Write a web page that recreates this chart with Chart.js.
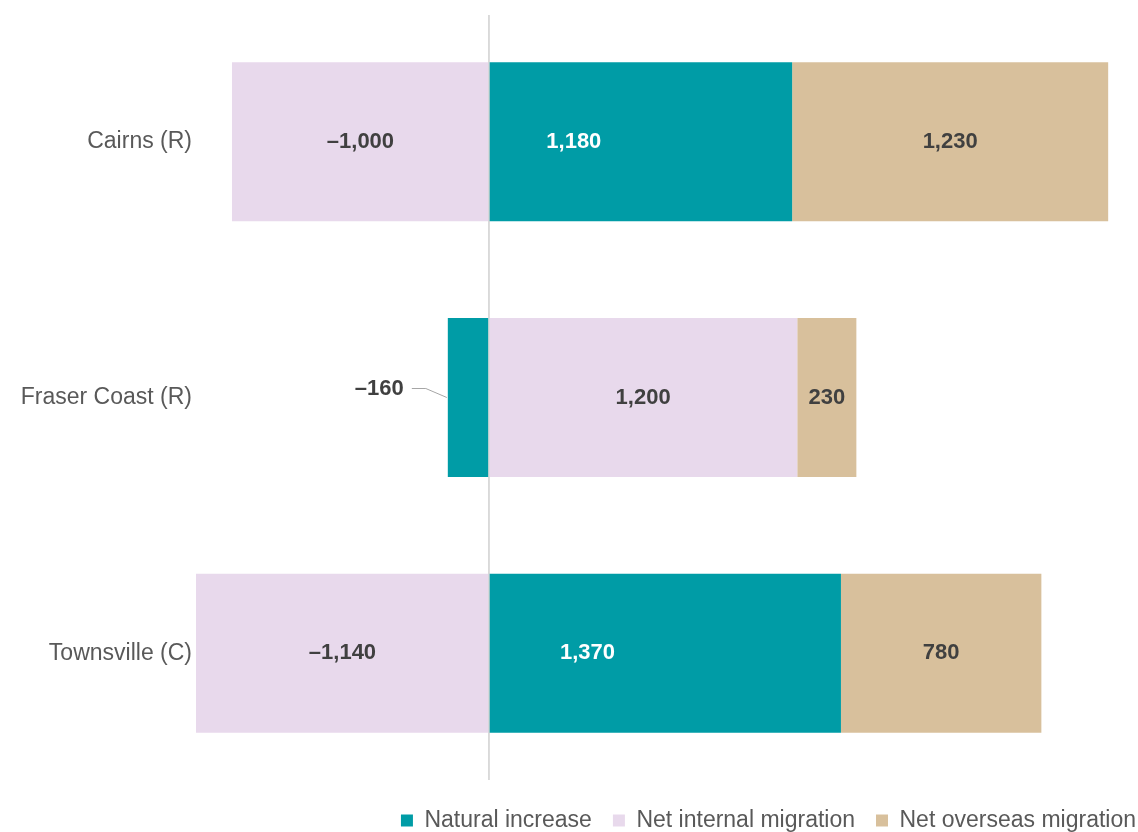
<!DOCTYPE html>
<html lang="en">
  <head>
    <meta charset="UTF-8" />
    <title>Components of population change</title>
    <script src="https://cdn.jsdelivr.net/npm/chart.js"></script>
    <style>
      html, body { margin: 0; padding: 0; overflow: hidden; background: #fff; }
      #wrap { width: 1157px; height: 842px; }
    </style>
  </head>
  <body>
    <div id="wrap"><canvas id="popChart"></canvas></div>
    <script>
      // data
      const categories = ["Cairns (R)", "Fraser Coast (R)", "Townsville (C)"];
      const naturalIncrease = [1180, -160, 1370];
      const netInternal = [-1000, 1200, -1140];
      const netOverseas = [1230, 230, 780];

      const teal = "#009ca6";
      const lilac = "#e8d9ec";
      const sand = "#d8c09c";
      const fontFamily = "'Liberation Sans', Arial, sans-serif";

      function fmt(v) {
        const s = Math.abs(v).toLocaleString("en-US");
        return v < 0 ? "\u2013" + s : s;
      }

      function drawZero(chart) {
        const { ctx, chartArea } = chart;
        const x0 = chart.scales.x.getPixelForValue(0);
        ctx.save();
        ctx.strokeStyle = "#d9d9d9";
        ctx.lineWidth = 1.5;
        ctx.beginPath();
        ctx.moveTo(x0, chartArea.top + 1);
        ctx.lineTo(x0, chartArea.bottom - 1);
        ctx.stroke();
        ctx.restore();
      }

      // value labels inside bars, leader line for the narrow ones
      const barLabels = {
        id: "barLabels",
        beforeDatasetsDraw(chart) {
          drawZero(chart);
        },
        afterDatasetsDraw(chart) {
          drawZero(chart);
          const ctx = chart.ctx;
          ctx.save();
          ctx.font = "bold 22px " + fontFamily;
          ctx.textBaseline = "middle";
          chart.data.datasets.forEach((ds, i) => {
            const meta = chart.getDatasetMeta(i);
            meta.data.forEach((bar, j) => {
              const v = ds.data[j];
              const text = fmt(v);
              const w = ctx.measureText(text).width;
              const left = Math.min(bar.x, bar.base);
              const span = Math.abs(bar.x - bar.base);
              ctx.fillStyle = i === 0 ? "#ffffff" : "#404040";
              if (w > span - 6) {
                ctx.fillStyle = "#404040";
                ctx.textAlign = "right";
                ctx.fillText(text, left - 44, bar.y - 9);
                ctx.strokeStyle = "#a6a6a6";
                ctx.lineWidth = 1;
                ctx.beginPath();
                ctx.moveTo(left - 36, bar.y - 9);
                ctx.lineTo(left - 22, bar.y - 9);
                ctx.lineTo(left - 1, bar.y);
                ctx.stroke();
                return;
              }
              let cx = (bar.x + bar.base) / 2;
              if (i === 0 && v > 0) cx = bar.base + (bar.x - bar.base) * 0.28;
              ctx.textAlign = "center";
              ctx.fillText(text, cx, bar.y);
            });
          });
          ctx.restore();
        },
      };

      new Chart(document.getElementById("popChart"), {
        type: "bar",
        data: {
          labels: categories,
          datasets: [
            { label: "Natural increase", data: naturalIncrease, backgroundColor: teal },
            { label: "Net internal migration", data: netInternal, backgroundColor: lilac },
            { label: "Net overseas migration", data: netOverseas, backgroundColor: sand },
          ],
        },
        options: {
          indexAxis: "y",
          responsive: true,
          maintainAspectRatio: false,
          animation: false,
          devicePixelRatio: 1,
          layout: { padding: { top: 14, left: 0, right: 0, bottom: 0 } },
          datasets: {
            bar: { categoryPercentage: 1, barPercentage: 0.622 },
          },
          scales: {
            x: {
              stacked: true,
              min: -1140,
              max: 2600,
              ticks: { display: false },
              border: { display: false },
              grid: { display: false, drawTicks: false },
              afterFit(scale) {
                scale.height = 7;
                scale.paddingLeft = 0;
                scale.paddingRight = 0;
              },
            },
            y: {
              stacked: true,
              border: { display: false },
              grid: { display: false, drawTicks: false },
              ticks: {
                color: "#595959",
                padding: 4,
                font: { family: fontFamily, size: 23 },
              },
              afterFit(scale) {
                scale.width = 196;
                scale.paddingTop = 0;
                scale.paddingBottom = 0;
              },
            },
          },
          plugins: {
            tooltip: { enabled: false },
            legend: {
              position: "bottom",
              align: "end",
              labels: {
                boxWidth: 12,
                boxHeight: 12,
                padding: 21,
                color: "#595959",
                font: { family: fontFamily, size: 23 },
              },
            },
          },
        },
        plugins: [barLabels],
      });
    </script>
  </body>
</html>
